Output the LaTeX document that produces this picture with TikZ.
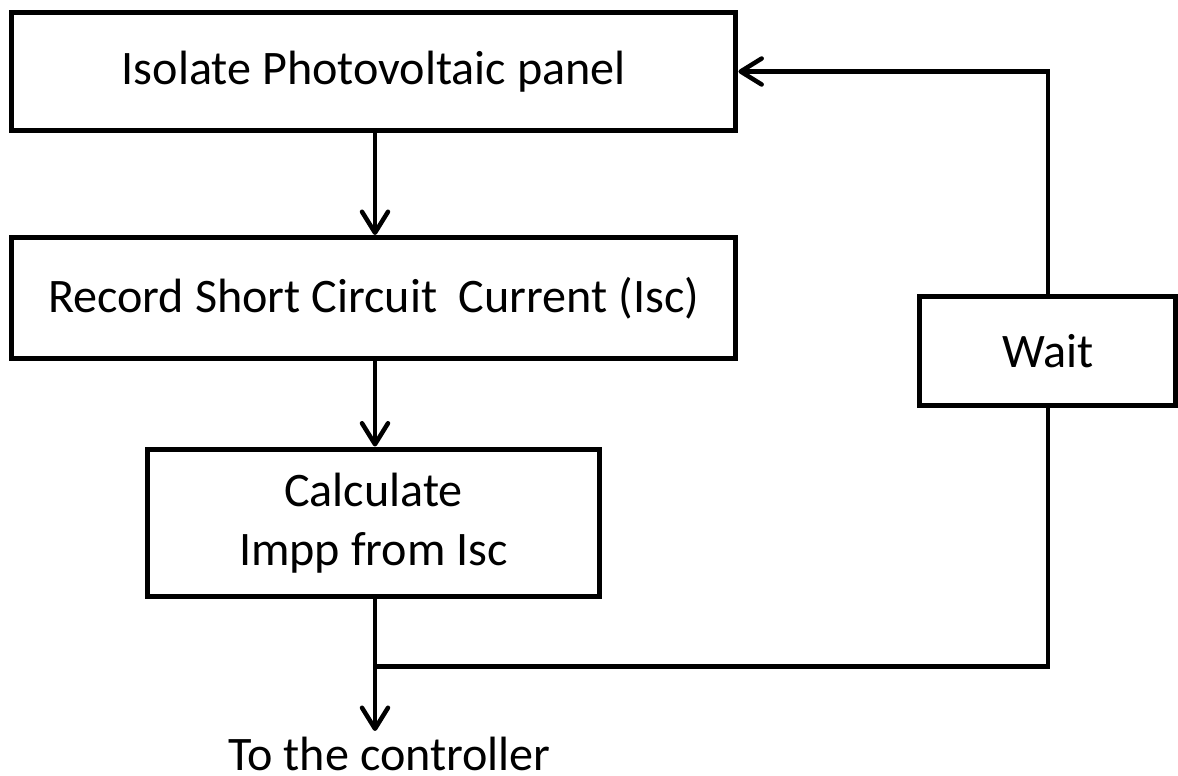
\documentclass[tikz,border=0pt]{standalone}
\usepackage{fontspec}
\setmainfont{Carlito}
\usetikzlibrary{positioning,arrows.meta}

\begin{document}
\begin{tikzpicture}[x=0.02cm,y=-0.02cm,
  font=\fontsize{27.4}{33.5}\selectfont,
  box/.style={draw,line width=0.1cm,align=center,inner sep=0pt},
  arr/.style={-{Straight Barb[length=0.42cm,width=0.52cm,round]},line width=0.09cm},
  link/.style={line width=0.09cm}]
  \useasboundingbox (0,0) rectangle (1178,776);
  \node[box,minimum width=14.49cm,minimum height=2.37cm] (isolate) at (373.75,71.5) {Isolate Photovoltaic panel};
  \node[box,minimum width=14.49cm,minimum height=2.42cm] (record) at (373.75,298) {Record Short Circuit\ \ Current (Isc)};
  \node[box,minimum width=9.06cm,minimum height=2.96cm] (calc) at (373.5,523) {Calculate\\Impp from Isc};
  \node[box,minimum width=5.13cm,minimum height=2.18cm] (wait) at (1047.75,351) {Wait};
  \node[anchor=base,inner sep=0pt] (ctrl) at (389.5,771) {To the controller};
  \coordinate (jn) at (375,666.5);
  \coordinate (tip) at (375,731);
  \draw[arr] (isolate.south -| jn) -- (record.north -| jn);
  \draw[arr] (record.south -| jn) -- (calc.north -| jn);
  \draw[arr] (calc.south -| jn) -- (tip);
  \draw[link] (jn) -| (wait.south);
  \draw[arr] (wait.north) |- (isolate.east);
\end{tikzpicture}
\end{document}
